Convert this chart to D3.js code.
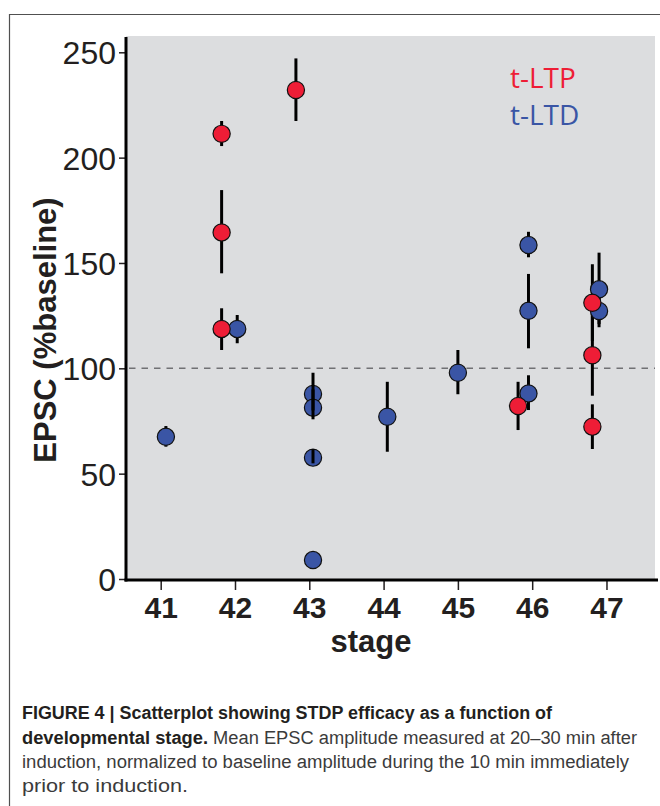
<!DOCTYPE html>
<html>
<head>
<meta charset="utf-8">
<script src="https://cdn.jsdelivr.net/npm/d3@7"></script>
<style>
  html, body { margin: 0; padding: 0; background: #fff; }
  svg { display: block; }
</style>
</head>
<body>
<script>
// ---------- data ----------
const stageTicks = [41, 42, 43, 44, 45, 46, 47];
const yTicks = [0, 50, 100, 150, 200, 250];
const baselineLevel = 100;

// t-LTP (red): plotted stage position, mean, lower and upper error
const ltpStage = [41.82, 41.82, 41.82, 42.82, 45.81, 46.81, 46.81, 46.81];
const ltpMean  = [211.3, 164.5, 118.7, 232.1, 82.1, 131.1, 106.2, 72.3];
const ltpLow   = [205.5, 145.1, 108.7, 217.4, 70.7, 113.0, 87.0, 61.7];
const ltpHigh  = [217.4, 184.6, 128.5, 247.1, 93.6, 149.4, 125.0, 82.9];

// t-LTD (blue)
const ltdStage = [41.07, 42.03, 43.05, 43.05, 43.05, 43.05, 44.05, 45.0, 45.95, 45.95, 45.95, 46.9, 46.9];
const ltdMean  = [67.5, 118.7, 87.8, 81.3, 57.6, 9.0, 77.0, 97.9, 158.5, 127.3, 88.1, 137.5, 127.2];
const ltdLow   = [62.8, 111.9, 80.0, 75.8, 54.9, 7.0, 60.4, 87.7, 152.7, 109.5, 80.2, 121.0, 119.5];
const ltdHigh  = [72.6, 125.3, 97.9, 90.0, 61.6, 11.0, 93.6, 108.7, 164.8, 144.8, 96.7, 154.9, 135.0];

const legendLabels = ["t-LTP", "t-LTD"];
const xTitle = "stage";
const yTitle = "EPSC (%baseline)";
const captionBold1 = "FIGURE 4 | Scatterplot showing STDP efficacy as a function of";
const captionBold2 = "developmental stage.";
const captionRest2 = " Mean EPSC amplitude measured at 20–30 min after";
const captionLine3 = "induction, normalized to baseline amplitude during the 10 min immediately";
const captionLine4 = "prior to induction.";

// ---------- layout ----------
const W = 660, H = 806;
const RED = "#ee1d36", BLUE = "#3a55a5", INK = "#231f20";
const plot = { left: 126, right: 655, top: 36, bottom: 580 };

const svg = d3.select("body").append("svg").attr("width", W).attr("height", H);

const x = d3.scaleLinear().domain([40.533, 47.653]).range([plot.left, plot.right]);
const y = d3.scaleLinear().domain([0, 250]).range([579, 52.3]);

// outer frame (left + top)
svg.append("path")
  .attr("d", `M9.5,806 V14.5 H660`)
  .attr("fill", "none").attr("stroke", "#505050").attr("stroke-width", 1.2);

// grey panel
svg.append("rect")
  .attr("x", plot.left).attr("y", plot.top)
  .attr("width", plot.right - plot.left).attr("height", plot.bottom - plot.top)
  .attr("fill", "#dcdddf");

// baseline dashed line
svg.append("line")
  .attr("x1", plot.left + 3).attr("x2", plot.right)
  .attr("y1", y(baselineLevel)).attr("y2", y(baselineLevel))
  .attr("stroke", "#707174").attr("stroke-width", 1.6)
  .attr("stroke-dasharray", "6.5,6");

// y axis
const yAxis = svg.append("g").attr("transform", `translate(${plot.left},0)`)
  .call(d3.axisLeft(y).tickValues(yTicks).tickSize(7).tickSizeOuter(0).tickPadding(3));
yAxis.select(".domain").remove();
yAxis.selectAll(".tick line").attr("stroke", INK).attr("stroke-width", 1.5);
yAxis.selectAll(".tick text")
  .attr("font-family", "'Liberation Sans', Arial, sans-serif")
  .attr("font-size", 32).attr("fill", INK).attr("dy", "0.36em");
svg.append("line")
  .attr("x1", plot.left).attr("x2", plot.left)
  .attr("y1", 37).attr("y2", 581.5)
  .attr("stroke", "#000").attr("stroke-width", 3);

// x axis
const xAxis = svg.append("g").attr("transform", `translate(0,${plot.bottom + 1})`)
  .call(d3.axisBottom(x).tickValues(stageTicks).tickFormat(d3.format("d"))
        .tickSize(9).tickSizeOuter(0).tickPadding(7));
xAxis.select(".domain").remove();
xAxis.selectAll(".tick line").attr("stroke", INK).attr("stroke-width", 1.5);
xAxis.selectAll(".tick text")
  .attr("font-family", "'Liberation Sans', Arial, sans-serif")
  .attr("font-weight", "bold").attr("font-size", 30).attr("fill", INK)
  .attr("dy", "0.71em");
svg.append("line")
  .attr("x1", plot.left - 1.5).attr("x2", plot.right + 3)
  .attr("y1", plot.bottom).attr("y2", plot.bottom)
  .attr("stroke", "#000").attr("stroke-width", 3);

// axis titles
svg.append("text")
  .attr("x", 371).attr("y", 652).attr("text-anchor", "middle")
  .attr("font-family", "'Liberation Sans', Arial, sans-serif")
  .attr("font-weight", "bold").attr("font-size", 31).attr("fill", INK)
  .text(xTitle);
svg.append("text")
  .attr("transform", "translate(56,330) rotate(-90)")
  .attr("text-anchor", "middle")
  .attr("font-family", "'Liberation Sans', Arial, sans-serif")
  .attr("font-weight", "bold").attr("font-size", 31).attr("fill", INK)
  .text(yTitle);

// data points
const ltp = ltpStage.map((s, i) => ({ s, m: ltpMean[i], lo: ltpLow[i], hi: ltpHigh[i] }));
const ltd = ltdStage.map((s, i) => ({ s, m: ltdMean[i], lo: ltdLow[i], hi: ltdHigh[i] }));

function errBars(data) {
  svg.append("g").selectAll("line").data(data).join("line")
    .attr("x1", d => x(d.s)).attr("x2", d => x(d.s))
    .attr("y1", d => y(d.lo)).attr("y2", d => y(d.hi))
    .attr("stroke", "#000").attr("stroke-width", 3);
}
function dots(data, color) {
  svg.append("g").selectAll("circle").data(data).join("circle")
    .attr("cx", d => x(d.s)).attr("cy", d => y(d.m)).attr("r", 8.6)
    .attr("fill", color).attr("stroke", "#111").attr("stroke-width", 1.2);
}
// in the original, the stage-43 t-LTD bars are printed over their dots
const onTop = d => Math.round(d.s) === 43;
errBars(ltd.filter(d => !onTop(d)).concat(ltp));
dots(ltd, BLUE);
errBars(ltd.filter(d => onTop(d) && d.m > 20));
dots(ltp, RED);

// legend
const legendColors = [RED, BLUE];
svg.append("g").selectAll("text").data(legendLabels).join("text")
  .attr("x", 510).attr("y", (d, i) => 88 + i * 37)
  .attr("font-family", "'Open Sans', 'Noto Sans', sans-serif")
  .attr("font-size", 28).attr("fill", (d, i) => legendColors[i])
  .text(d => d);

// caption
const capFont = "'Liberation Sans Narrow', 'Liberation Sans', Arial, sans-serif";
const cap = svg.append("g").attr("font-family", capFont).attr("font-size", 18);
cap.append("text").attr("x", 22).attr("y", 719)
  .attr("font-weight", "bold").attr("fill", INK)
  .attr("textLength", 530).attr("lengthAdjust", "spacingAndGlyphs")
  .text(captionBold1);
const l2 = cap.append("text").attr("x", 22).attr("y", 744)
  .attr("textLength", 615).attr("lengthAdjust", "spacingAndGlyphs");
l2.append("tspan").attr("font-weight", "bold").attr("fill", INK).text(captionBold2);
l2.append("tspan").attr("fill", "#3b3b3b").text(captionRest2);
cap.append("text").attr("x", 22).attr("y", 768).attr("fill", "#3b3b3b")
  .attr("textLength", 607).attr("lengthAdjust", "spacingAndGlyphs")
  .text(captionLine3);
cap.append("text").attr("x", 22).attr("y", 792).attr("fill", "#3b3b3b")
  .attr("textLength", 166).attr("lengthAdjust", "spacingAndGlyphs")
  .text(captionLine4);
</script>
</body>
</html>
